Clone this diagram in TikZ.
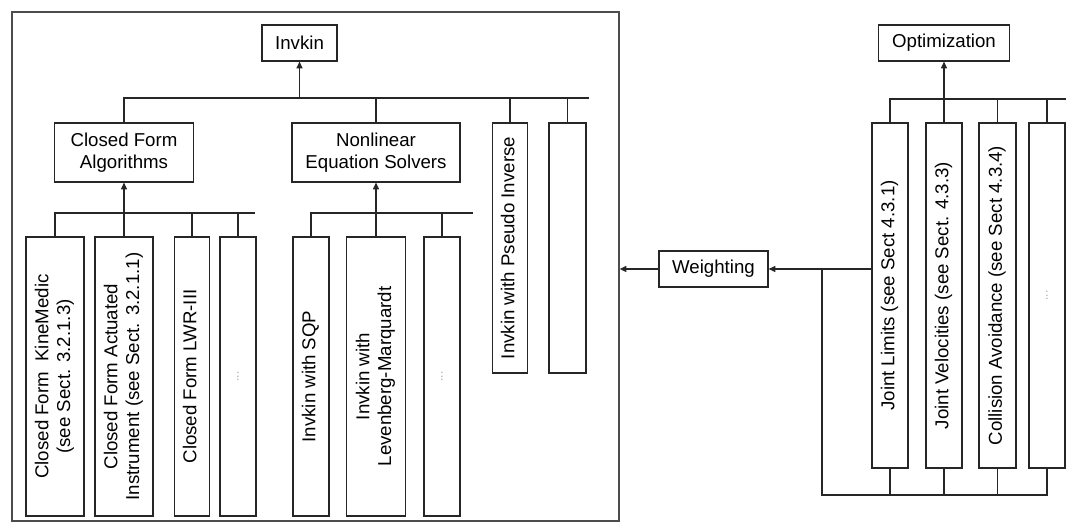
\documentclass[tikz,border=0pt]{standalone}
\usepackage{fontspec}
\usepackage{graphicx}
\setmainfont{Liberation Sans}
\usetikzlibrary{arrows.meta}
\newcommand\lab{\fontsize{14pt}{16.3pt}\selectfont}
\newcommand\vtext[1]{\rotatebox{90}{\begin{tabular}{@{}c@{}}#1\end{tabular}}}
\newcommand\faint{{\color{black!35}\rotatebox{90}{\fontsize{9pt}{10pt}\selectfont ...}}}
\begin{document}
\begin{tikzpicture}[x=0.75pt,y=-0.75pt,
  box/.style={draw=black!85, line width=0.9pt, fill=white, inner sep=0pt,
              align=center, font=\lab},
  frame/.style={draw=black!70, line width=1pt, inner sep=0pt},
  link/.style={draw=black!85, line width=0.8pt},
  arr/.style={link, -{Triangle[length=5pt,width=4.5pt]}},
  vbox/.style={box, minimum height=209.25pt},
  rbox/.style={box, minimum height=258.75pt}]
\useasboundingbox (0,0) rectangle (1066,523);

% ---- inverse kinematics group ----
\node[frame, minimum width=455.25pt, minimum height=381.75pt] (ikframe) at (315.5,266.5) {};

\node[box, minimum width=56.25pt, minimum height=27pt] (inv) at (299.5,43) {Invkin};

\node[box, minimum width=104.25pt, minimum height=44.25pt] (cfa) at (124,152.5) {Closed Form\\Algorithms};
\node[box, minimum width=126pt, minimum height=44.25pt] (nes) at (376,152.5) {Nonlinear\\Equation Solvers};
\node[box, minimum width=26.25pt, minimum height=187.5pt] (pinv) at (510,248) {\vtext{Invkin with Pseudo Inverse}};
\node[box, minimum width=27.75pt, minimum height=187.5pt] (emp1) at (567.5,248) {};

\coordinate (tbend) at (589,98);
\draw[link] (cfa.north) |- (tbend);
\draw[link] (nes.north) -- (nes.north |- tbend);
\draw[link] (pinv.north) -- (pinv.north |- tbend);
\draw[link] (emp1.north) -- (emp1.north |- tbend);
\draw[arr] (inv.south |- tbend) -- (inv.south);

% closed form variants
\node[vbox, minimum width=43.5pt] (b1) at (55,376.5) {\vtext{Closed Form\ \ KineMedic\\(see Sect. 3.2.1.3)}};
\node[vbox, minimum width=43.5pt] (b2) at (124,376.5) {\vtext{Closed Form Actuated\\Instrument (see Sect. 3.2.1.1)}};
\node[vbox, minimum width=26.25pt] (b3) at (192,376.5) {\vtext{Closed Form LWR-III}};
\node[vbox, minimum width=27pt] (b4) at (238,376.5) {\faint};

\coordinate (lbl) at (255,213);
\draw[link] (b1.north) |- (lbl);
\draw[link] (b3.north) -- (b3.north |- lbl);
\draw[link] (b4.north) -- (b4.north |- lbl);
\draw[arr] (b2.north) -- (cfa.south);

% numerical solvers
\node[vbox, minimum width=27pt] (b5) at (311,376.5) {\vtext{Invkin with SQP}};
\node[vbox, minimum width=44.25pt] (b6) at (376,376.5) {\vtext{Invkin with\\Levenberg-Marquardt}};
\node[vbox, minimum width=27pt] (b7) at (442,376.5) {\faint};

\coordinate (lbr) at (473,213);
\draw[link] (b5.north) |- (lbr);
\draw[link] (b7.north) -- (b7.north |- lbr);
\draw[arr] (b6.north) -- (nes.south);

% ---- optimization criteria ----
\node[box, minimum width=98.25pt, minimum height=27pt] (opt) at (944,43) {Optimization};

\node[rbox, minimum width=27pt] (jl) at (890,295.5) {\vtext{Joint Limits (see Sect 4.3.1)}};
\node[rbox, minimum width=27pt] (jv) at (944,295.5) {\vtext{Joint Velocities (see Sect. 4.3.3)}};
\node[rbox, minimum width=27.75pt] (ca) at (997.5,295.5) {\vtext{Collision Avoidance (see Sect 4.3.4)}};
\node[rbox, minimum width=27pt] (e2) at (1047,295.5) {\faint};

\coordinate (rbend) at (1066,99);
\draw[link] (jl.north) |- (rbend);
\draw[link] (ca.north) -- (ca.north |- rbend);
\draw[link] (e2.north) -- (e2.north |- rbend);
\draw[arr] (jv.north) -- (opt.south);

% ---- weighting ----
\node[box, minimum width=81.75pt, minimum height=27pt] (wt) at (713.5,269) {Weighting};

\coordinate (bbl) at (822,495);
\draw[link] (jl.south) -- (jl.south |- bbl);
\draw[link] (jv.south) -- (jv.south |- bbl);
\draw[link] (ca.south) -- (ca.south |- bbl);
\draw[link] (e2.south) |- (bbl) -- (bbl |- wt.east);
\draw[arr] (jl.west |- wt.east) -- (wt.east);
\draw[arr] (wt.west) -- (ikframe.east |- wt.west);
\end{tikzpicture}
\end{document}
